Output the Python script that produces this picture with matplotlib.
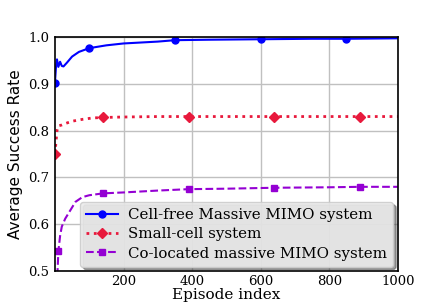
import numpy as np
import matplotlib
matplotlib.use("Agg")
import matplotlib.pyplot as plt

# episode samples and curves
ep_cf = [0, 3, 6, 10, 15, 20, 25, 35, 50, 70, 100, 150, 200, 300, 350, 450, 600, 750, 850, 1000]
cf = [0.902, 0.935, 0.952, 0.936, 0.947, 0.938, 0.937, 0.945, 0.958, 0.968, 0.976, 0.982, 0.986, 0.990, 0.993, 0.994, 0.995, 0.996, 0.996, 0.997]
cf_marks = [0, 10, 14, 16, 18]

ep_sc = [0, 3, 6, 10, 20, 30, 50, 80, 110, 140, 200, 300, 390, 500, 640, 800, 890, 1000]
sc = [0.750, 0.775, 0.800, 0.810, 0.812, 0.815, 0.820, 0.824, 0.827, 0.828, 0.829, 0.830, 0.830, 0.830, 0.830, 0.830, 0.830, 0.830]
sc_marks = [0, 9, 12, 14, 16]

ep_co = [7, 10, 15, 20, 30, 45, 60, 80, 100, 140, 200, 300, 390, 500, 640, 800, 890, 1000]
co = [0.490, 0.542, 0.575, 0.595, 0.612, 0.630, 0.648, 0.658, 0.662, 0.666, 0.668, 0.672, 0.675, 0.676, 0.678, 0.679, 0.680, 0.680]
co_marks = [1, 9, 12, 14, 16]

labels = ["Cell-free Massive MIMO system", "Small-cell system", "Co-located massive MIMO system"]

fig = plt.figure(figsize=(4.43, 3.05), dpi=100)
ax = fig.add_axes([0.124, 0.111, 0.774, 0.768])

ax.plot(ep_cf, cf, "-", color="#0000ff", lw=1.5, marker="o", ms=5, markevery=cf_marks, label=labels[0])
ax.plot(ep_sc, sc, ":", color="#e8193c", lw=2, marker="D", ms=5, markevery=sc_marks, label=labels[1])
ax.plot(ep_co, co, "--", color="#9400d3", lw=1.5, marker="s", ms=5, markevery=co_marks, label=labels[2])

ax.set_xlim(0, 1000)
ax.set_ylim(0.5, 1.0)
ax.set_xticks([200, 400, 600, 800, 1000])
ax.set_yticks([0.5, 0.6, 0.7, 0.8, 0.9, 1.0])
ax.grid(True, color="#c0c0c0", lw=1)
ax.set_axisbelow(True)
ax.tick_params(length=0, labelsize=9.5, pad=4)
ax.tick_params(axis="x", pad=2.5)
for t in ax.get_xticklabels() + ax.get_yticklabels():
    t.set_family("DejaVu Serif")
for s in ax.spines.values():
    s.set_linewidth(1.2)

ax.set_ylabel("Average Success Rate", fontsize=11, family="DejaVu Sans")
ax.set_xlabel("Episode index", fontsize=11, family="DejaVu Serif", labelpad=0)

leg = ax.legend(loc="lower right", prop={"family": "DejaVu Serif", "size": 10.8},
                fancybox=True, shadow=True, framealpha=0.9, facecolor="#ebebeb",
                borderaxespad=0.3, handlelength=2.1, labelspacing=0.35,
                borderpad=0.4, handletextpad=0.7)

fig.savefig("out.png", dpi=100)
